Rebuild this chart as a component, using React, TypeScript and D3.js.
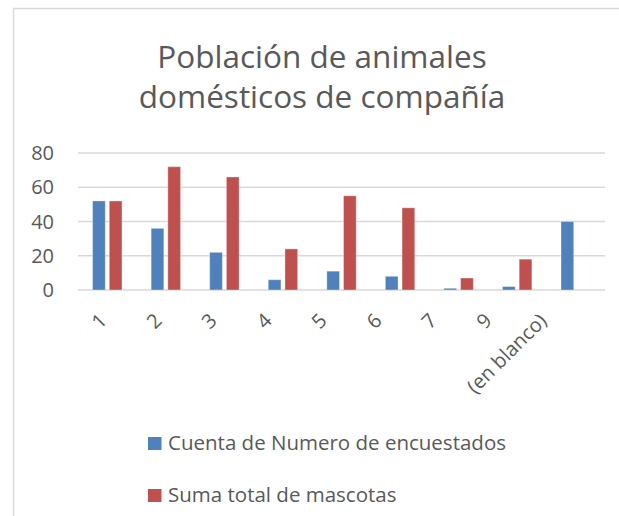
import React from "react";
import * as d3 from "d3";

const categories = ["1", "2", "3", "4", "5", "6", "7", "9", "(en blanco)"];
const seriesNames = ["Cuenta de Numero de encuestados", "Suma total de mascotas"];
const cuentaValues = [52, 36, 22, 6, 11, 8, 1, 2, 40];
const sumaValues = [52, 72, 66, 24, 55, 48, 7, 18, 0];
const yTicks = [0, 20, 40, 60, 80];
const titleLines = ["Población de animales", "domésticos de compañía"];
const colors = ["#4f81bd", "#c0504d"];

const W = 619;
const H = 516;
const FONT = "'Open Sans', sans-serif";
const TEXT = "#595959";

export default function App() {
  const plotLeft = 78;
  const plotRight = 605;
  const plotTop = 153;
  const plotBottom = 290;

  const x0 = d3.scaleBand<string>().domain(categories).range([plotLeft, plotRight]);
  const half = 14.7;
  const x1 = d3
    .scaleBand<string>()
    .domain(seriesNames)
    .range([x0.bandwidth() / 2 - half, x0.bandwidth() / 2 + half])
    .paddingInner(0.24);
  const y = d3.scaleLinear().domain([0, 80]).range([plotBottom, plotTop]);
  const labelX = d3.scalePoint<string>().domain(categories).range([108, 548]);

  const seriesValues = [cuentaValues, sumaValues];

  return (
    <svg
      width={W}
      height={H}
      style={{ position: "absolute", left: 0, top: 0, background: "#fff" }}
    >
      <rect x={0} y={0} width={W} height={H} fill="#fff" />
      <rect x={13.5} y={8.5} width={W + 20} height={H + 20} fill="#fff" stroke="#d9d9d9" strokeWidth={1.5} />

      {titleLines.map((t, i) => (
        <text
          key={t}
          x={322}
          y={68 + i * 40}
          textAnchor="middle"
          fontFamily={FONT}
          fontSize={31.5}
          fill={TEXT}
        >
          {t}
        </text>
      ))}

      {yTicks.map((v) => (
        <g key={v}>
          <line
            x1={plotLeft}
            x2={plotRight}
            y1={y(v)}
            y2={y(v)}
            stroke="#d9d9d9"
            strokeWidth={1.5}
          />
          <text
            x={54}
            y={y(v)}
            dy="0.35em"
            textAnchor="end"
            fontFamily={FONT}
            fontSize={20}
            fill={TEXT}
          >
            {v}
          </text>
        </g>
      ))}

      {categories.map((c, ci) => (
        <g key={c} transform={`translate(${x0(c)},0)`}>
          {seriesNames.map((s, si) => {
            const v = seriesValues[si][ci];
            if (v <= 0) return null;
            return (
              <rect
                key={s}
                x={x1(s)}
                y={y(v)}
                width={x1.bandwidth()}
                height={y(0) - y(v)}
                fill={colors[si]}
                stroke="rgba(255,255,255,0.35)"
                strokeWidth={1}
              />
            );
          })}
        </g>
      ))}

      {categories.map((c) => (
        <text
          key={c}
          transform={`translate(${labelX(c)},${322}) rotate(-45)`}
          textAnchor="end"
          fontFamily={FONT}
          fontSize={20}
          fill={TEXT}
        >
          {c}
        </text>
      ))}

      {seriesNames.map((s, i) => (
        <g key={s} transform={`translate(148,${450 + i * 52})`}>
          <rect x={0} y={-13} width={13.5} height={13} fill={colors[i]} />
          <text x={20} y={0} fontFamily={FONT} fontSize={20.5} fill={TEXT}>
            {s}
          </text>
        </g>
      ))}
    </svg>
  );
}
